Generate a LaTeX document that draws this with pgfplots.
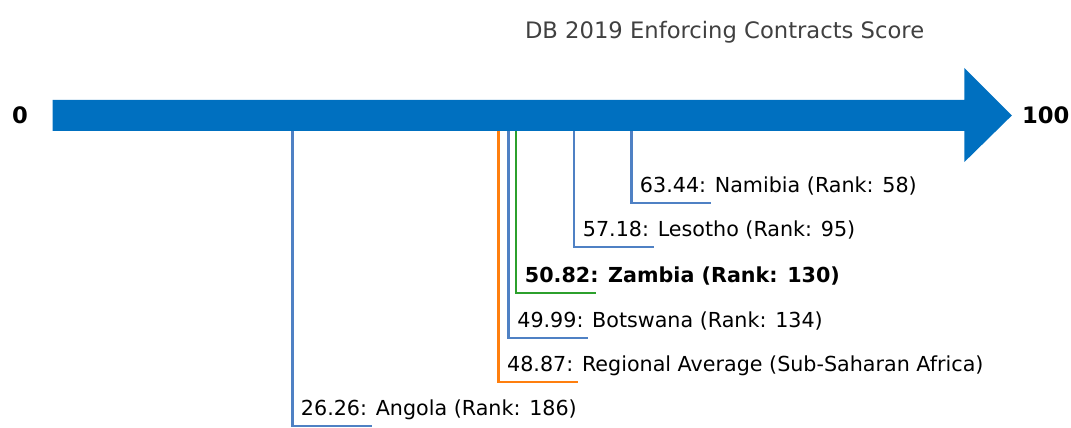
\documentclass[border=0pt]{standalone}
\usepackage{pgfplots}
\pgfplotsset{compat=1.18}
\usepackage{fontspec}
\setmainfont{DejaVu Sans}
\definecolor{arrowblue}{HTML}{0070C0}
\definecolor{lineblue}{HTML}{4F81C4}
\definecolor{lineorange}{HTML}{FF7F0E}
\definecolor{linegreen}{HTML}{2CA02C}
\tikzset{lbl/.style={anchor=base west, inner sep=0pt, xshift=6.5pt, font=\fontsize{15.5}{18}\selectfont}}
\begin{document}
\begin{tikzpicture}
\begin{axis}[
  hide axis,
  scale only axis,
  width=803.25pt, height=320.25pt,
  xmin=-5.77, xmax=111.69,
  ymin=0, ymax=427,
  clip=false,
]
\path (rel axis cs:0,0) rectangle (rel axis cs:1,1);
% arrow (score scale 0 to 100)
\addplot[draw=none, fill=arrowblue] coordinates {
  (0,327) (100,327) (100,359) (105.2,311.5) (100,265) (100,296) (0,296)} -- cycle;
% leader lines: value, height of the foot
\addplot[lineblue, line width=2.2pt] coordinates {(63.44,296) (63.44,224) (72.2,224)};
\addplot[lineblue, line width=2.2pt] coordinates {(57.18,296) (57.18,180) (65.95,180)};
\addplot[linegreen, line width=2.2pt] coordinates {(50.82,296) (50.82,134) (59.6,134)};
\addplot[lineblue, line width=2.2pt] coordinates {(49.99,296) (49.99,89) (58.75,89)};
\addplot[lineorange, line width=2.2pt] coordinates {(48.87,296) (48.87,45) (57.65,45)};
\addplot[lineblue, line width=2.2pt] coordinates {(26.26,296) (26.26,1) (35.0,1)};
% labels
\node[lbl] at (axis cs:63.44,234) {63.44: Namibia (Rank: 58)};
\node[lbl] at (axis cs:57.18,190) {57.18: Lesotho (Rank: 95)};
\node[lbl, font=\fontsize{15.5}{18}\bfseries\selectfont] at (axis cs:50.82,144) {50.82: Zambia (Rank: 130)};
\node[lbl] at (axis cs:49.99,99) {49.99: Botswana (Rank: 134)};
\node[lbl] at (axis cs:48.87,55) {48.87: Regional Average (Sub-Saharan Africa)};
\node[lbl] at (axis cs:26.26,11) {26.26: Angola (Rank: 186)};
\node[font=\fontsize{17}{20}\bfseries\selectfont] at (axis cs:-3.58,311.5) {0};
\node[font=\fontsize{17}{20}\bfseries\selectfont, anchor=west, inner sep=0pt] at (axis cs:106.3,311.5) {100};
\node[font=\fontsize{17}{20}\selectfont, text=black!75] at (axis cs:73.7,395) {DB 2019 Enforcing Contracts Score};
\end{axis}
\end{tikzpicture}
\end{document}
